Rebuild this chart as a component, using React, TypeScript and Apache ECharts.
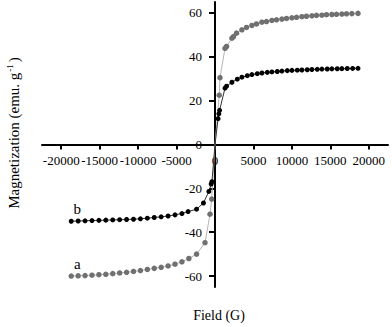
import React, { useEffect, useRef } from "react";
import * as echarts from "echarts";

// Series a (grey): field (G) and magnetization (emu/g)
const fieldA = [
  -18700, -17800, -16900, -16000, -15100, -14200, -13300, -12400, -11500, -10600,
  -9700, -8800, -7900, -7000, -6100, -5200, -4300, -3400, -2400, -1300, -650, -430,
  0,
  550, 650, 1300, 1500, 2200, 2400, 2800, 3500, 4100, 4800, 5400, 6100, 6700, 7400,
  8000, 8700, 9300, 10000, 10600, 11300, 11900, 12600, 13200, 13900, 14500, 15200,
  15800, 16500, 17100, 17800, 18600,
];
const magA = [
  -60.0, -59.9, -59.8, -59.6, -59.4, -59.2, -58.9, -58.6, -58.3, -57.9,
  -57.5, -57.0, -56.5, -56.0, -55.4, -54.6, -53.5, -52.0, -50.0, -44.8, -31.8, -24.9,
  0,
  22.5, 30.5, 43.9, 44.7, 48.5, 49.2, 50.8, 52.3, 53.4, 54.3, 55.0, 55.8, 56.1, 56.6,
  56.9, 57.2, 57.5, 57.8, 58.0, 58.3, 58.5, 58.7, 58.9, 59.0, 59.2, 59.3,
  59.4, 59.5, 59.6, 59.7, 59.8,
];

// Series b (black)
const fieldB = [
  -18700, -17800, -16900, -16000, -15100, -14200, -13300, -12400, -11500, -10600,
  -9700, -8800, -7900, -7000, -6100, -5200, -4300, -3500, -2400, -1500, -800, -500, -400,
  0,
  400, 500, 600, 1300, 1500, 2200, 2900, 3500, 4200, 4800, 5500, 6100, 6800, 7400,
  8100, 8700, 9400, 10000, 10700, 11300, 12000, 12600, 13300, 13900, 14600, 15200,
  15900, 16500, 17200, 17900, 18600,
];
const magB = [
  -35.0, -34.9, -34.8, -34.7, -34.6, -34.5, -34.4, -34.3, -34.2, -34.1,
  -33.9, -33.6, -33.3, -33.0, -32.6, -32.1, -31.5, -30.6, -29.5, -26.7, -21.4, -18.0, -17.0,
  0,
  11.8, 14.0, 15.6, 25.7, 26.6, 28.4, 29.8, 30.7, 31.4, 31.9, 32.3, 32.6, 32.9, 33.1,
  33.3, 33.5, 33.7, 33.8, 33.9, 34.0, 34.1, 34.2, 34.3, 34.4, 34.45, 34.5,
  34.55, 34.6, 34.65, 34.7, 34.75,
];

const xTicks = [-20000, -15000, -10000, -5000, 0, 5000, 10000, 15000, 20000];
const yTicks = [-60, -40, -20, 0, 20, 40, 60];
const seriesNames = ["a", "b"];

const FONT = "'Liberation Serif', 'Times New Roman', serif";

const GRID_LEFT = 42;
const GRID_TOP = 2;
const GRID_W = 346;
const GRID_H = 285;

function buildData(xs: number[], ys: number[], name: string) {
  return xs.map((x, i) => {
    const item: any = { value: [x, ys[i]] };
    if (x === 0) item.symbol = "none";
    if (i === 0) {
      item.label = {
        show: true,
        formatter: name,
        position: "top",
        distance: 2,
        offset: [6, 0],
        fontFamily: FONT,
        fontSize: 15,
        color: "#000",
      };
    }
    return item;
  });
}

export default function App() {
  const ref = useRef<HTMLDivElement>(null);
  useEffect(() => {
    if (!ref.current) return;
    const chart = echarts.init(ref.current, null, { renderer: "svg" });
    const xMin = -22500;
    const xMax = 22500;
    const yMin = -65;
    const yMax = 65;
    // axes cross at zero: shift each axis line to the other axis's zero
    const xOffset = -GRID_H * (0 - yMin) / (yMax - yMin);
    const yOffset = -GRID_W * (0 - xMin) / (xMax - xMin);
    chart.setOption({
      animation: false,
      backgroundColor: "#fff",
      grid: { left: GRID_LEFT, top: GRID_TOP, width: GRID_W, height: GRID_H, containLabel: false },
      xAxis: {
        type: "value",
        position: "bottom",
        offset: xOffset,
        min: xMin,
        max: xMax,
        axisLine: { onZero: false, lineStyle: { color: "#000", width: 2 } },
        axisTick: { show: true, length: 5, customValues: xTicks, lineStyle: { color: "#000", width: 2 } },
        axisLabel: {
          customValues: xTicks,
          formatter: (v: number) => String(v),
          hideOverlap: false,
          margin: 9,
          fontFamily: FONT,
          fontSize: 13,
          color: "#000",
        },
        splitLine: { show: false },
      },
      yAxis: {
        type: "value",
        position: "left",
        offset: yOffset,
        min: yMin,
        max: yMax,
        axisLine: { onZero: false, lineStyle: { color: "#000", width: 2 } },
        axisTick: { show: true, length: 6, customValues: yTicks, lineStyle: { color: "#000", width: 2 } },
        axisLabel: {
          customValues: yTicks,
          formatter: (v: number) => String(v),
          hideOverlap: false,
          margin: 13,
          fontFamily: FONT,
          fontSize: 13,
          color: "#000",
        },
        splitLine: { show: false },
      },
      graphic: [
        {
          type: "text",
          x: 14,
          y: 133,
          rotation: Math.PI / 2,
          style: {
            text: "Magnetization (emu. g{sup|-1}{n|)}",
            fontFamily: FONT,
            fontSize: 15,
            fill: "#000",
            align: "center",
            verticalAlign: "middle",
            rich: {
              sup: { fontSize: 9, fontFamily: FONT, verticalAlign: "top", lineHeight: 18, padding: [0, 0, 8, 1] },
              n: { fontSize: 15, fontFamily: FONT, padding: [0, 0, 0, 2] },
            },
          },
        },
        {
          type: "text",
          x: 219,
          y: 315,
          style: {
            text: "Field (G)",
            fontFamily: FONT,
            fontSize: 14,
            fill: "#000",
            align: "center",
            verticalAlign: "middle",
          },
        },
      ],
      series: [
        {
          name: seriesNames[0],
          type: "line",
          data: buildData(fieldA, magA, seriesNames[0]),
          symbol: "circle",
          symbolSize: 5.5,
          itemStyle: { color: "#707070" },
          lineStyle: { color: "#b5b5b5", width: 1 },
          z: 2,
        },
        {
          name: seriesNames[1],
          type: "line",
          data: buildData(fieldB, magB, seriesNames[1]),
          symbol: "circle",
          symbolSize: 5,
          itemStyle: { color: "#000" },
          lineStyle: { color: "#333", width: 1 },
          z: 3,
        },
      ],
    });
    return () => chart.dispose();
  }, []);
  return (
    <div
      ref={ref}
      style={{ position: "fixed", left: 0, top: 0, width: 392, height: 327, background: "#fff" }}
    />
  );
}
